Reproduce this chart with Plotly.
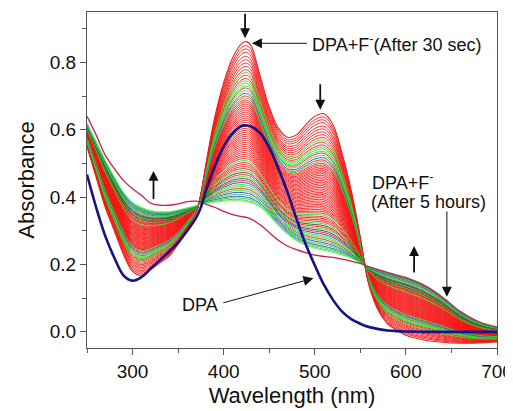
import plotly.graph_objects as go

# Wavelength grid (nm)
wavelength = [250, 260, 270, 280, 290, 300, 310, 320, 330, 340, 350, 360, 370, 375, 380,
              390, 400, 410, 420, 425, 430, 440, 450, 460, 470, 480, 490, 500, 510, 520,
              530, 540, 550, 555, 560, 570, 580, 590, 600, 620, 640, 660, 680, 700]

# DPA + F- after 30 sec (first spectrum)
abs_30sec = [0.55, 0.46, 0.37, 0.30, 0.23, 0.18, 0.168, 0.185, 0.205, 0.225, 0.26, 0.305, 0.355, 0.41, 0.49,
             0.635, 0.74, 0.815, 0.857, 0.862, 0.85, 0.76, 0.668, 0.605, 0.578, 0.585, 0.615, 0.64, 0.648, 0.615,
             0.53, 0.42, 0.28, 0.198, 0.134, 0.062, 0.024, 0.005, -0.01, -0.024, -0.031, -0.034, -0.033, -0.03]

# latest spectrum of the dense family (lower edge at 425 nm)
abs_late = [0.62, 0.565, 0.51, 0.46, 0.415, 0.385, 0.37, 0.36, 0.357, 0.357, 0.362, 0.368, 0.375, 0.38, 0.382,
            0.385, 0.388, 0.39, 0.388, 0.386, 0.383, 0.37, 0.345, 0.315, 0.29, 0.27, 0.257, 0.248, 0.242, 0.236,
            0.228, 0.218, 0.205, 0.198, 0.193, 0.185, 0.177, 0.17, 0.163, 0.14, 0.105, 0.06, 0.03, 0.015]

# DPA + F- after 5 hours
abs_5hours = [0.64, 0.585, 0.525, 0.485, 0.45, 0.425, 0.405, 0.382, 0.376, 0.376, 0.38, 0.387, 0.388, 0.385, 0.38,
              0.37, 0.358, 0.348, 0.342, 0.34, 0.335, 0.318, 0.295, 0.272, 0.255, 0.244, 0.235, 0.228, 0.224, 0.221,
              0.216, 0.21, 0.203, 0.198, 0.193, 0.184, 0.176, 0.168, 0.16, 0.138, 0.103, 0.06, 0.03, 0.014]

# DPA alone
abs_dpa = [0.467, 0.37, 0.285, 0.22, 0.168, 0.152, 0.163, 0.188, 0.213, 0.238, 0.265, 0.3, 0.34, 0.37, 0.415,
           0.49, 0.55, 0.59, 0.612, 0.613, 0.61, 0.59, 0.548, 0.485, 0.415, 0.335, 0.26, 0.198, 0.14, 0.095,
           0.06, 0.038, 0.024, 0.018, 0.014, 0.008, 0.004, 0.002, 0.001, 0.0, 0.0, 0.0, 0.0, 0.0]

# intermediate spectra: absorbance read at the 425 nm peak, and trace colour code
mid_peak_425 = [0.850, 0.840, 0.830, 0.818, 0.808, 0.798, 0.788, 0.778, 0.770, 0.762, 0.752, 0.745, 0.738,
                0.730, 0.724, 0.716, 0.708, 0.700, 0.694, 0.688, 0.682, 0.676, 0.670, 0.664, 0.658, 0.652,
                0.646, 0.640, 0.634, 0.628, 0.622, 0.616, 0.610, 0.604, 0.598, 0.592, 0.586, 0.580, 0.574,
                0.568, 0.562, 0.556, 0.550, 0.544, 0.538, 0.532, 0.526, 0.520, 0.514, 0.508, 0.502, 0.496,
                0.490, 0.484, 0.478, 0.472, 0.466, 0.460, 0.454, 0.448, 0.442, 0.436, 0.430, 0.424, 0.418,
                0.412, 0.406, 0.400, 0.395, 0.390]
mid_color_code = ["r", "r", "r", "r", "r", "r", "r", "r", "g", "r", "r", "g", "g",
                  "g", "r", "g", "b", "r", "g", "r", "r", "r", "r", "r", "r", "r",
                  "r", "r", "r", "r", "r", "r", "r", "r", "r", "r", "r", "r", "r",
                  "r", "r", "r", "r", "r", "r", "r", "r", "r", "r", "g", "r", "r",
                  "r", "r", "g", "k", "r", "g", "k", "r", "b", "g", "g", "r", "g",
                  "b", "g", "b", "g", "g"]

palette = {"r": "rgb(245,20,20)", "g": "rgb(40,220,40)", "b": "rgb(45,60,225)", "k": "rgb(60,50,40)"}

fig = go.Figure()

i425 = wavelength.index(425)
p0 = abs_30sec[i425]
p1 = abs_late[i425]
# draw red ones first, coloured ones on top
order = [i for i, c in enumerate(mid_color_code) if c == "r"] + \
        [i for i, c in enumerate(mid_color_code) if c != "r"]
for i in order:
    f = (p0 - mid_peak_425[i]) / (p0 - p1)
    ys = [a + f * (b - a) for a, b in zip(abs_30sec, abs_late)]
    fig.add_trace(go.Scatter(x=wavelength, y=ys, mode="lines",
                             line=dict(color=palette[mid_color_code[i]], width=0.9, shape="spline", smoothing=1.0),
                             showlegend=False, hoverinfo="skip"))

fig.add_trace(go.Scatter(x=wavelength, y=abs_late, mode="lines",
                         line=dict(color="rgb(120,235,120)", width=1.0, shape="spline", smoothing=1.0), showlegend=False))
fig.add_trace(go.Scatter(x=wavelength, y=abs_30sec, mode="lines",
                         line=dict(color="rgb(235,30,30)", width=1.1, shape="spline", smoothing=1.0), showlegend=False))
fig.add_trace(go.Scatter(x=wavelength, y=abs_5hours, mode="lines",
                         line=dict(color="rgb(200,30,70)", width=1.3, shape="spline", smoothing=1.0), showlegend=False))
fig.add_trace(go.Scatter(x=wavelength, y=abs_dpa, mode="lines",
                         line=dict(color="rgb(20,20,135)", width=2.6, shape="spline", smoothing=1.0), showlegend=False))

FONT = "Liberation Sans, Arial, sans-serif"
txt = dict(family=FONT, size=18, color="#111")

def arrow(x, y, ax, ay, width=1.8, size=1.1):
    fig.add_annotation(x=x, y=y, ax=ax, ay=ay, xref="x", yref="y", axref="x", ayref="y",
                       text="", showarrow=True, arrowhead=2, arrowsize=size, arrowwidth=width,
                       arrowcolor="#111")

# bold short arrows
arrow(423.5, 0.872, 423.5, 0.949)
arrow(506, 0.66, 506, 0.74)
arrow(323, 0.478, 323, 0.39)
arrow(609, 0.255, 609, 0.172)
# thin pointer arrows
arrow(431, 0.857, 493, 0.857, width=1, size=2)
arrow(645, 0.104, 645, 0.362, width=1, size=2)
arrow(498.5, 0.159, 398, 0.085, width=1, size=2)

fig.add_annotation(x=495, y=0.857, xref="x", yref="y", text="DPA+F<sup>-</sup>(After 30 sec)",
                   showarrow=False, xanchor="left", yanchor="middle", font=txt)
fig.add_annotation(x=560.5, y=0.446, xref="x", yref="y", text="DPA+F<sup>-</sup>",
                   showarrow=False, xanchor="left", yanchor="middle", font=txt)
fig.add_annotation(x=559.5, y=0.386, xref="x", yref="y", text="(After 5 hours)",
                   showarrow=False, xanchor="left", yanchor="middle", font=txt)
fig.add_annotation(x=352, y=0.079, xref="x", yref="y", text="DPA",
                   showarrow=False, xanchor="left", yanchor="middle", font=txt)

axis_common = dict(showgrid=False, zeroline=False, showline=True, linecolor="#555", linewidth=1.2,
                   mirror=True, ticks="outside", ticklen=6, tickwidth=1.2, tickcolor="#555",
                   automargin=False, ticklabeloverflow="allow",
                   tickfont=dict(family=FONT, size=19, color="#111"))

fig.update_xaxes(range=[250, 700], tickvals=[300, 400, 500, 600, 700],
                 minor=dict(dtick=50, tick0=250, ticks="outside", ticklen=4, tickcolor="#555"),
                 title=dict(text="Wavelength (nm)", font=dict(family=FONT, size=22, color="#111"), standoff=6),
                 **axis_common)
fig.update_yaxes(range=[-0.048, 0.95], tickvals=[0.0, 0.2, 0.4, 0.6, 0.8], tickformat=".1f",
                 minor=dict(dtick=0.1, tick0=0, ticks="outside", ticklen=4, tickcolor="#555"),
                 title=dict(text="Absorbance", font=dict(family=FONT, size=22, color="#111"), standoff=8),
                 **axis_common)

# the page body adds an 8 px offset, so the figure is 8 px smaller on each side
fig.update_layout(width=505, height=403, margin=dict(l=79, r=16, t=4, b=63),
                  plot_bgcolor="white", paper_bgcolor="white")

fig.write_html("out.html")
